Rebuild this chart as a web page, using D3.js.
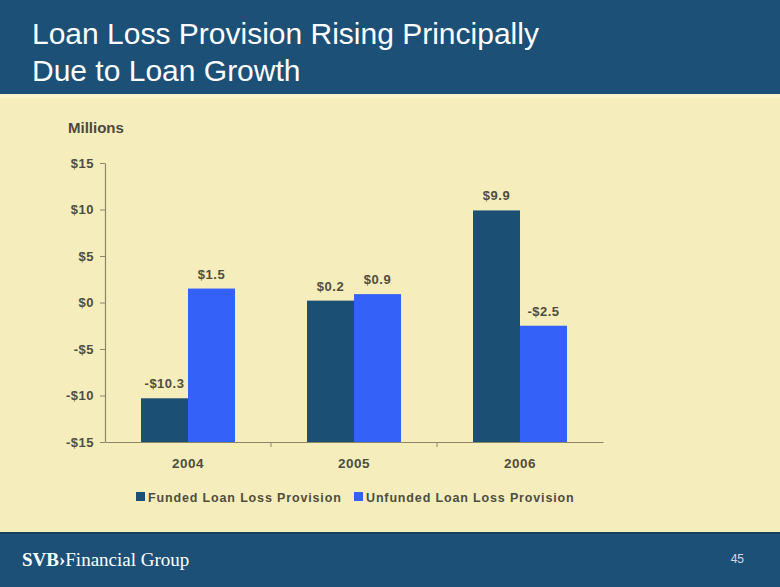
<!DOCTYPE html>
<html>
<head>
<meta charset="utf-8">
<script src="https://cdn.jsdelivr.net/npm/d3@7"></script>
<style>
  html, body { margin: 0; padding: 0; background: #f5eebc; }
  svg { display: block; }
</style>
</head>
<body>
<svg id="chart" width="780" height="587"></svg>
<script>
const years = ["2004", "2005", "2006"];
const seriesNames = ["Funded Loan Loss Provision", "Unfunded Loan Loss Provision"];
const funded = [-10.3, 0.2, 9.9];
const unfunded = [1.5, 0.9, -2.5];
const valueLabels = [["-$10.3", "$1.5"], ["$0.2", "$0.9"], ["$9.9", "-$2.5"]];
const yTicks = [-15, -10, -5, 0, 5, 10, 15];
const yTickLabels = ["-$15", "-$10", "-$5", "$0", "$5", "$10", "$15"];
const titleLines = ["Loan Loss Provision Rising Principally", "Due to Loan Growth"];
const colors = ["#1b4f74", "#3461f7"];

const svg = d3.select("#chart");
const W = 780, H = 587;

// background
svg.append("rect").attr("x", 0).attr("y", 0).attr("width", W).attr("height", H).attr("fill", "#f5eebc");
// header band
svg.append("rect").attr("x", 0).attr("y", 0).attr("width", W).attr("height", 94).attr("fill", "#1c5077");
svg.append("rect").attr("x", 0).attr("y", 94).attr("width", W).attr("height", 4).attr("fill", "#f8f3c9");
// footer band
svg.append("rect").attr("x", 0).attr("y", 532).attr("width", W).attr("height", H - 532).attr("fill", "#1c5077");
svg.append("rect").attr("x", 0).attr("y", 532).attr("width", W).attr("height", 2).attr("fill", "#163f5e");

// title
svg.append("g").selectAll("text").data(titleLines).join("text")
  .attr("x", 32).attr("y", (d, i) => 44 + i * 36.5)
  .attr("fill", "#ffffff")
  .attr("font-family", "Liberation Sans, Arial, sans-serif")
  .attr("font-size", 30)
  .text(d => d);

// scales
const x0 = d3.scaleBand().domain(years).range([105, 603]).paddingInner(0).paddingOuter(0);
const x1 = d3.scaleBand().domain(seriesNames).range([0, x0.bandwidth()]).paddingInner(0).paddingOuter(0.766);
const y = d3.scaleLinear().domain([-15, 15]).range([442, 163]);

const textColor = "#4f4d3e";
const axisColor = "#8a8668";
const fontFam = "Liberation Sans, Arial, sans-serif";

// "Millions"
svg.append("text").attr("x", 68).attr("y", 133)
  .attr("font-family", fontFam).attr("font-size", 15).attr("font-weight", "bold")
  .attr("fill", "#4a4a40").text("Millions");

// y axis
const yAxis = d3.axisLeft(y).tickValues(yTicks).tickSize(5).tickSizeOuter(0)
  .tickFormat(d => yTickLabels[yTicks.indexOf(d)]);
const gy = svg.append("g").attr("transform", "translate(105,0)").call(yAxis);
gy.select(".domain").attr("stroke", axisColor).attr("stroke-width", 1.2);
gy.selectAll(".tick line").attr("stroke", axisColor);
gy.selectAll(".tick text").attr("font-family", fontFam).attr("font-size", 13).attr("font-weight", "bold")
  .attr("letter-spacing", 0.5)
  .attr("fill", textColor).attr("x", -11);

// bars (Excel-style: grow from axis floor at -15)
const groups = svg.append("g").selectAll("g").data(years).join("g")
  .attr("transform", d => `translate(${x0(d)},0)`);
const rowData = (d, i) => [
  { s: seriesNames[0], v: funded[i], lab: valueLabels[i][0] },
  { s: seriesNames[1], v: unfunded[i], lab: valueLabels[i][1] }
];
groups.selectAll("rect").data(rowData).join("rect")
  .attr("x", d => x1(d.s))
  .attr("width", x1.bandwidth())
  .attr("y", d => y(d.v))
  .attr("height", d => y(-15) - y(d.v))
  .attr("fill", (d, j) => colors[j]);

groups.selectAll("text.val").data(rowData).join("text").attr("class", "val")
  .attr("x", d => x1(d.s) + x1.bandwidth() / 2)
  .attr("y", d => y(d.v) - 10)
  .attr("text-anchor", "middle")
  .attr("font-family", fontFam).attr("font-size", 13).attr("font-weight", "bold")
  .attr("letter-spacing", 0.5)
  .attr("fill", textColor)
  .text(d => d.lab);

// x axis
const xAxis = d3.axisBottom(x0).tickSize(0).tickSizeOuter(0);
const gx = svg.append("g").attr("transform", `translate(0,${y(-15)})`).call(xAxis);
gx.select(".domain").attr("stroke", axisColor).attr("stroke-width", 1.2);
gx.selectAll(".tick text").attr("font-family", fontFam).attr("font-size", 13.5).attr("font-weight", "bold")
  .attr("letter-spacing", 0.5)
  .attr("fill", textColor).attr("dy", 0).attr("y", 26);
// category separator ticks
svg.append("g").selectAll("line").data(years.slice(1)).join("line")
  .attr("x1", d => x0(d)).attr("x2", d => x0(d))
  .attr("y1", y(-15)).attr("y2", y(-15) + 5)
  .attr("stroke", axisColor);

// legend
const legend = svg.append("g").attr("transform", "translate(0,497)");
const legendX = [136, 354];
seriesNames.forEach((s, i) => {
  legend.append("rect").attr("x", legendX[i]).attr("y", -5).attr("width", 9).attr("height", 9).attr("fill", colors[i]);
  legend.append("text").attr("x", legendX[i] + 12).attr("y", 4.5)
    .attr("font-family", fontFam).attr("font-size", 12.5).attr("font-weight", "bold")
    .attr("letter-spacing", 0.85).attr("fill", textColor).text(s);
});

// footer
const foot = svg.append("text").attr("x", 22).attr("y", 566)
  .attr("font-family", "Liberation Serif, Times New Roman, serif").attr("font-size", 19).attr("fill", "#ffffff");
foot.append("tspan").attr("font-weight", "bold").text("SVB");
foot.append("tspan").attr("font-weight", "bold").text("\u203A");
foot.append("tspan").text("Financial Group");

svg.append("text").attr("x", 744).attr("y", 563).attr("text-anchor", "end")
  .attr("font-family", fontFam).attr("font-size", 12).attr("fill", "#d0dbe6").text("45");
</script>
</body>
</html>
